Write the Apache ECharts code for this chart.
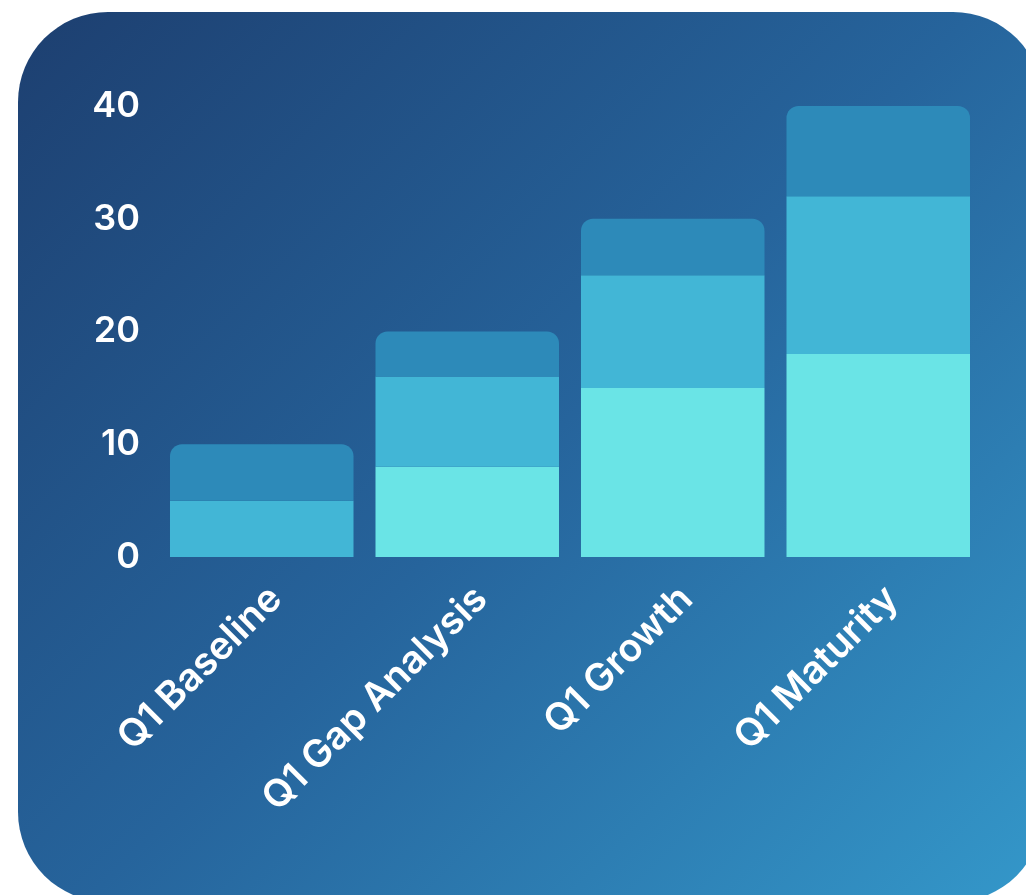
<!DOCTYPE html>
<html>
<head>
<meta charset="utf-8">
<script src="https://cdn.jsdelivr.net/npm/echarts@6/dist/echarts.min.js"></script>
<style>
  html, body { margin: 0; padding: 0; width: 1026px; height: 895px; overflow: hidden; background: #ffffff; }
  #card { position: absolute; left: 18px; top: 12px; width: 1025px; height: 890px; border-radius: 90px;
          background: linear-gradient(135deg, #1d3f70 0%, #26649c 50%, #3498ca 100%); }
  #chart { position: absolute; left: 0; top: 0; width: 1026px; height: 895px; }
</style>
</head>
<body>
<div id="card"></div>
<div id="chart"></div>
<script>
const categories = ['Q1 Baseline', 'Q1 Gap Analysis', 'Q1 Growth', 'Q1 Maturity'];
const bottomValues = [0, 8, 15, 18];
const middleValues = [5, 8, 10, 14];
const topValues = [5, 4, 5, 8];
const yTicks = [0, 10, 20, 30, 40];

const chart = echarts.init(document.getElementById('chart'), null, { renderer: 'canvas' });
const font = 'Inter, "Open Sans", sans-serif';
chart.setOption({
  backgroundColor: 'transparent',
  animation: false,
  grid: { left: 159, right: 45, top: 106, bottom: 338, containLabel: false },
  xAxis: {
    type: 'category',
    data: categories,
    axisLine: { show: false },
    axisTick: { show: false },
    axisLabel: { color: '#ffffff', fontSize: 38.5, fontWeight: 600, fontFamily: font, rotate: 45, margin: 22, interval: 0, verticalAlign: 'top' }
  },
  yAxis: {
    type: 'value',
    min: yTicks[0],
    max: yTicks[yTicks.length - 1],
    interval: yTicks[1] - yTicks[0],
    splitLine: { show: false },
    axisLine: { show: false },
    axisTick: { show: false },
    axisLabel: { color: '#ffffff', fontSize: 36, fontWeight: 600, fontFamily: font, margin: 19 }
  },
  series: [
    { type: 'bar', stack: 'a', data: bottomValues, barCategoryGap: '10.7%', itemStyle: { color: '#6ae4e6' } },
    { type: 'bar', stack: 'a', data: middleValues, itemStyle: { color: '#42b6d6' } },
    { type: 'bar', stack: 'a', data: topValues, itemStyle: { color: '#2d8ab9', borderRadius: [12, 12, 0, 0] } }
  ]
});
</script>
</body>
</html>
